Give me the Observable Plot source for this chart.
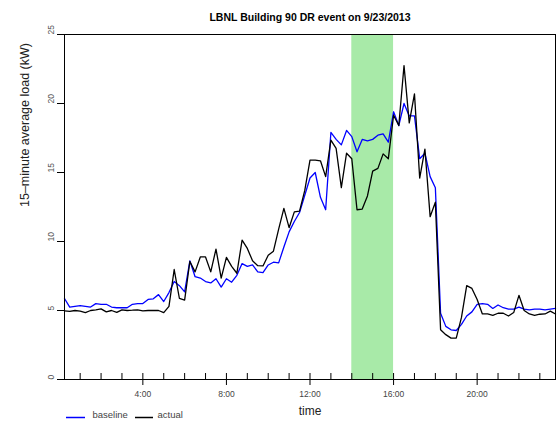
<!DOCTYPE html>
<html><head><meta charset="utf-8">
<script src="https://cdn.jsdelivr.net/npm/d3@7"></script>
<script src="https://cdn.jsdelivr.net/npm/@observablehq/plot@0.6"></script>
<style>body{margin:0;background:#fff;} svg{display:block}</style>
</head><body><div id="chart"></div>
<script>
const title = "LBNL Building 90 DR event on 9/23/2013";
const yLabel = "15–minute average load (kW)";
const xLabel = "time";
const startHour = 0.25, stepHours = 0.25;
const baseline = [5.87,5.25,5.3,5.35,5.3,5.25,5.5,5.45,5.45,5.25,5.2,5.2,5.2,5.45,5.5,5.5,5.8,5.85,6.15,5.65,
  6.3,7.1,6.8,6.35,8.6,7.45,7.35,7.1,7.0,7.3,6.7,7.3,7.05,7.55,8.4,8.2,8.3,7.8,7.75,8.3,
  8.5,8.45,9.6,10.7,11.45,12.1,13.35,14.6,15.0,13.2,12.3,17.9,17.4,17.0,18.05,17.6,16.5,17.4,17.3,17.4,
  17.7,17.8,17.2,19.4,18.4,20.0,19.1,19.1,16.0,16.4,14.7,13.9,4.8,3.85,3.6,3.55,4.0,4.6,4.9,5.45,
  5.5,5.45,5.15,5.4,5.2,5.1,5.1,5.25,5.1,5.05,5.1,5.1,5.05,5.1,5.15];
const actual = [4.97,4.93,5.0,4.95,4.85,5.0,5.05,5.12,4.9,5.0,4.87,5.05,5.0,5.02,5.05,4.97,5.0,5.0,5.0,4.85,
  5.3,7.97,5.87,5.75,8.55,7.8,8.88,8.88,7.8,9.45,7.35,8.85,8.2,7.7,10.1,9.5,8.6,8.25,8.23,9.0,
  9.3,10.9,12.4,11.0,12.15,12.2,13.7,15.9,15.9,15.85,14.7,17.35,16.75,13.9,16.4,16.0,12.3,12.35,13.3,15.1,
  15.3,16.35,16.0,19.15,18.4,22.75,18.6,20.7,14.6,16.7,11.8,12.85,3.6,3.25,3.0,3.0,4.5,6.8,6.6,5.8,
  4.75,4.75,4.65,4.8,4.8,4.6,4.85,6.1,5.0,4.75,4.65,4.73,4.75,4.95,4.75];
const eventStart = 14, eventEnd = 16;
const majorTicks = [4, 8, 12, 16, 20];
const majorLabels = ["4:00", "8:00", "12:00", "16:00", "20:00"];
const minorTicks = [1,2,3,5,6,7,9,10,11,13,14,15,17,18,19,21,22,23];
const yTicks = [0, 5, 10, 15, 20, 25];
const seriesNames = ["baseline", "actual"];
const seriesColors = ["#0000ff", "#000000"];

const rows = [];
[baseline, actual].forEach((vals, s) => vals.forEach((v, i) =>
  rows.push({t: startHour + i * stepHours, value: v, series: seriesNames[s]})));

const W = 560, H = 425, mt = 34, mb = 46, ml = 64, mr = 5;
const plotH = H - mt - mb, plotW = W - ml - mr;
const font = "'Liberation Sans', Arial, Helvetica, sans-serif";

// legend layout (offsets from the frame's left edge)
const swatch = [[2, 21], [71, 89]];
const labelDx = [28, 93];
const legendDy = 38;

const chart = Plot.plot({
  width: W, height: H,
  marginTop: mt, marginBottom: mb, marginLeft: ml, marginRight: mr,
  style: {fontFamily: font, background: "#fff", overflow: "visible"},
  x: {domain: [startHour, startHour + (baseline.length - 1) * stepHours], axis: null},
  y: {domain: [0, 25], axis: null},
  color: {domain: seriesNames, range: seriesColors},
  marks: [
    Plot.rect([{x1: eventStart, x2: eventEnd}], {x1: "x1", x2: "x2", fill: "#a8eaa8"}),
    Plot.line(rows, {x: "t", y: "value", z: "series", stroke: "series", strokeWidth: 1.3}),
    Plot.frame({stroke: "#000", strokeWidth: 1}),
    Plot.ruleX(minorTicks, {insetTop: plotH - 6, stroke: "#000"}),
    Plot.ruleX(majorTicks, {insetTop: plotH - 6, insetBottom: -6, stroke: "#000"}),
    Plot.text(majorTicks, {x: d => d, text: (d, i) => majorLabels[i], frameAnchor: "bottom", dy: 17, fontSize: 8.5, fill: "#444"}),
    Plot.ruleY(yTicks, {insetLeft: -7, insetRight: plotW, stroke: "#000"}),
    Plot.text(yTicks, {y: d => d, text: d => String(d), frameAnchor: "left", dx: -13, rotate: -90, fontSize: 8.5, fill: "#555"}),
    Plot.text([title], {frameAnchor: "top", dy: -21, fontWeight: "bold", fontSize: 10.5, fill: "#000"}),
    Plot.text([yLabel], {frameAnchor: "left", dx: -40, rotate: -90, fontSize: 12.5, fill: "#222"}),
    Plot.text([xLabel], {frameAnchor: "bottom", dy: 35, fontSize: 12, fill: "#222"}),
    ...seriesNames.flatMap((name, i) => [
      Plot.ruleY([0], {dy: legendDy, insetLeft: swatch[i][0], insetRight: plotW - swatch[i][1], stroke: seriesColors[i], strokeWidth: 1.5}),
      Plot.text([name], {frameAnchor: "bottom-left", dx: labelDx[i], dy: legendDy, textAnchor: "start", fontSize: 9.5, fill: "#444"})
    ])
  ]
});
document.getElementById("chart").appendChild(chart);
</script>
</body></html>
